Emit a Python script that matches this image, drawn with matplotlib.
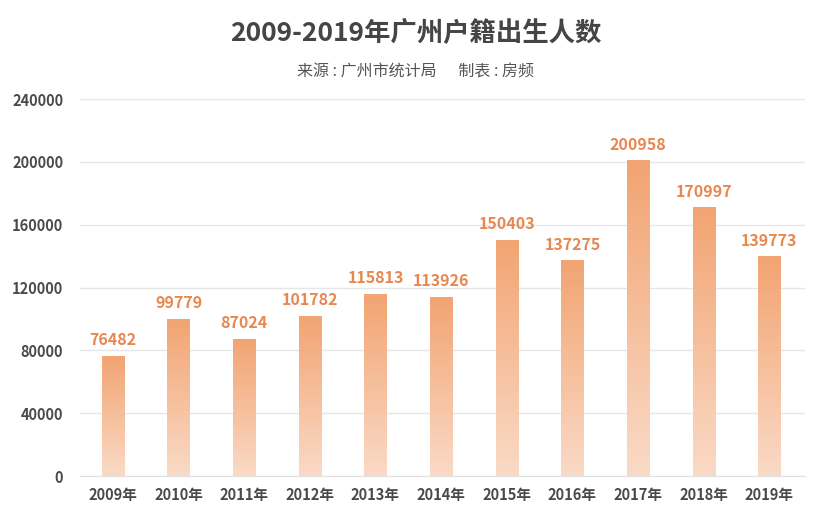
import numpy as np
import matplotlib.pyplot as plt
from matplotlib.colors import LinearSegmentedColormap

plt.rcParams['font.family'] = ['Noto Sans CJK SC', 'DejaVu Sans']

years = ['2009年', '2010年', '2011年', '2012年', '2013年', '2014年',
         '2015年', '2016年', '2017年', '2018年', '2019年']
births = [76482, 99779, 87024, 101782, 115813, 113926,
          150403, 137275, 200958, 170997, 139773]
yticks = [0, 40000, 80000, 120000, 160000, 200000, 240000]

fig = plt.figure(figsize=(8.31, 5.25), dpi=100)
ax = fig.add_axes([0.0963, 0.0933, 0.873, 0.718])

cmap = LinearSegmentedColormap.from_list('bar', ['#fadac6', '#f2a472'])
grad = np.linspace(0, 1, 256).reshape(-1, 1)

x = np.arange(len(years))
bars = ax.bar(x, births, width=0.34, color='none', edgecolor='none', zorder=2)
for b, v in zip(bars, births):
    im = ax.imshow(grad, cmap=cmap, aspect='auto', origin='lower',
                   extent=[b.get_x(), b.get_x() + b.get_width(), 0, v], zorder=2)
    im.set_clip_path(b)
    ax.text(b.get_x() + b.get_width() / 2, v + 5000, str(v), ha='center', va='bottom',
            fontsize=11.5, fontweight='bold', color='#e8874f')

ax.set_xlim(-0.5, 10.55)
ax.set_ylim(0, 240000)
ax.set_yticks(yticks)
ax.set_yticklabels([str(t) for t in yticks])
ax.set_xticks(x)
ax.set_xticklabels(years)
ax.grid(axis='y', color='#e6e6e6', linewidth=1, zorder=0)
for s in ['top', 'right', 'left']:
    ax.spines[s].set_visible(False)
ax.spines['bottom'].set_color('#e0e0e0')
ax.tick_params(axis='both', length=0, labelsize=10.5, labelcolor='#4a4a4a')
ax.tick_params(axis='y', pad=12)
ax.tick_params(axis='x', pad=8)
for lab in ax.get_xticklabels() + ax.get_yticklabels():
    lab.set_fontweight('bold')

fig.text(0.5, 0.935, '2009-2019年广州户籍出生人数', ha='center', va='center',
         fontsize=19, fontweight='bold', color='#454545')
fig.text(0.5, 0.862, '来源 : 广州市统计局      制表 : 房频', ha='center', va='center',
         fontsize=11.5, color='#555555')

fig.savefig('out.png', dpi=100)
